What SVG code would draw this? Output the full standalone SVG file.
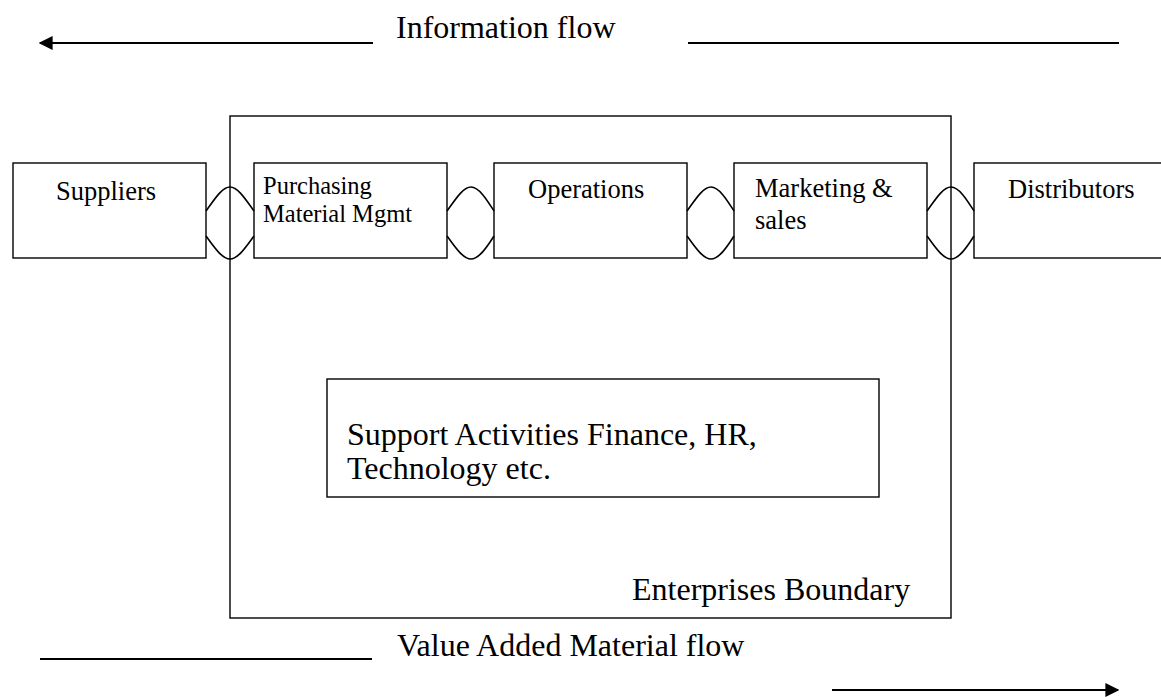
<svg xmlns="http://www.w3.org/2000/svg" width="1161" height="697" viewBox="0 0 1161 697">
<style>
.box{fill:#fff;stroke:#000;stroke-width:1.4}
.frame{fill:none;stroke:#000;stroke-width:1.4}
.lens{fill:none;stroke:#000;stroke-width:1.6}
.flow{stroke:#000;stroke-width:2;fill:none}
text{font-family:"Liberation Serif","Times New Roman",serif;fill:#000}
.big{font-size:32px}
.lbl{font-size:26.5px}
.sm{font-size:24.5px}
</style>
<defs>
<marker id="ah" viewBox="0 0 10 10" refX="9" refY="5" markerWidth="7" markerHeight="7" markerUnits="strokeWidth" orient="auto">
<path d="M0,0 L10,5 L0,10 z" fill="#000"/>
</marker>
</defs>
<g id="flows">
<line class="flow" x1="373" y1="43" x2="40" y2="43" marker-end="url(#ah)"/>
<text class="big" x="396" y="38">Information flow</text>
<line class="flow" x1="688" y1="43" x2="1119" y2="43"/>
<line class="flow" x1="40" y1="659" x2="372" y2="659"/>
<text class="big" x="397" y="656">Value Added Material flow</text>
<line class="flow" x1="832" y1="690" x2="1118" y2="690" marker-end="url(#ah)"/>
</g>
<g id="boundary">
<rect class="frame" x="230" y="116" width="721" height="502"/>
<text class="big" x="632" y="600">Enterprises Boundary</text>
</g>
<g id="suppliers">
<rect class="box" x="13" y="163" width="193" height="95"/>
<text class="lbl" x="56" y="200">Suppliers</text>
</g>
<g id="purchasing">
<rect class="box" x="254" y="163" width="193" height="95"/>
<text class="sm" x="263" y="194">Purchasing</text>
<text class="sm" x="263" y="222">Material Mgmt</text>
</g>
<g id="operations">
<rect class="box" x="494" y="163" width="193" height="95"/>
<text class="lbl" x="528" y="198">Operations</text>
</g>
<g id="marketing">
<rect class="box" x="734" y="163" width="193" height="95"/>
<text class="lbl" x="755" y="197">Marketing &amp;</text>
<text class="lbl" x="755" y="229">sales</text>
</g>
<g id="distributors">
<rect class="box" x="974" y="163" width="200" height="95"/>
<text class="lbl" x="1008" y="198">Distributors</text>
</g>
<g id="support">
<rect class="box" x="327" y="379" width="552" height="118"/>
<text class="big" x="347" y="445">Support Activities Finance, HR,</text>
<text class="big" x="347" y="479">Technology etc.</text>
</g>
<g id="connectors">
<path class="lens" d="M206,211 C214,200 222,187 230,187 C238,187 246,200 254,211 M206,236 C214,247 222,259 230,259 C238,259 246,247 254,236"/>
<path class="lens" d="M447,211 C455,200 463,187 471,187 C479,187 487,200 494,211 M447,236 C455,247 463,259 471,259 C479,259 487,247 494,236"/>
<path class="lens" d="M687,211 C695,200 703,187 711,187 C719,187 727,200 734,211 M687,236 C695,247 703,259 711,259 C719,259 727,247 734,236"/>
<path class="lens" d="M927,211 C935,200 943,187 951,187 C959,187 967,200 974,211 M927,236 C935,247 943,259 951,259 C959,259 967,247 974,236"/>
</g>
</svg>
